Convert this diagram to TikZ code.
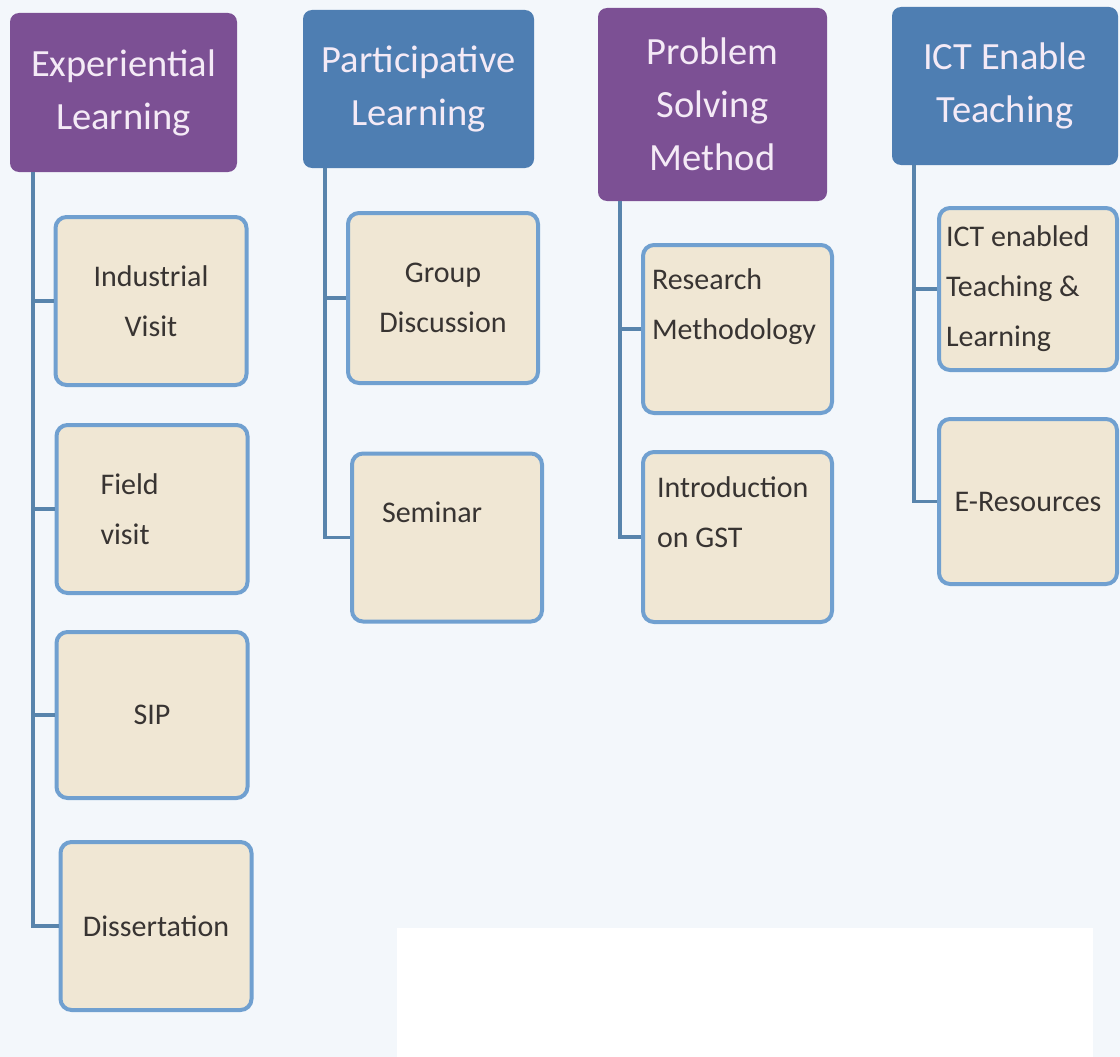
\documentclass[tikz,border=0pt]{standalone}
\usepackage{fontspec}
\setmainfont{Carlito}
\usepackage{xcolor}
\usepackage{tikz}
\usetikzlibrary{positioning}
\definecolor{bgblue}{RGB}{243,247,251}
\definecolor{headpurple}{RGB}{124,80,148}
\definecolor{headblue}{RGB}{78,126,178}
\definecolor{headtext}{RGB}{244,234,246}
\definecolor{subfill}{RGB}{240,231,212}
\definecolor{subline}{RGB}{112,160,208}
\definecolor{subtext}{RGB}{56,52,50}
\definecolor{trunkcol}{RGB}{88,132,172}
\tikzstyle{head}=[rectangle,rounded corners=9pt,align=center,text=headtext,inner sep=0pt,
minimum width=229pt,minimum height=158pt,font=\fontsize{38.5}{53}\selectfont]
\tikzstyle{hp}=[head,fill=headpurple]
\tikzstyle{hb}=[head,fill=headblue]
\tikzstyle{sub}=[draw=subline,line width=4pt,rounded corners=11pt,fill=subfill,align=center,
text=subtext,inner sep=0pt,minimum width=191pt,minimum height=168pt,font=\fontsize{30}{50}\selectfont]
\tikzstyle{subl}=[sub,align=flush left]
\tikzstyle{trunk}=[draw,trunkcol,line width=3.6pt]
\begin{document}
\begin{tikzpicture}[x=1pt,y=-1pt]

	\useasboundingbox (0,0) rectangle (1120,1057);
	\fill[bgblue] (0,0) rectangle (1120,1057);
	\fill[white] (397,928) rectangle (1093,1057);

% % % Experiential

	\node[hp,minimum width=227pt,minimum height=159pt] (el) at (123.5,92.5) {Experiential\\Learning};

	\node[sub] (iv) at (151,301) {Industrial\\Visit};
	\node[subl,text width=103pt] (fv) at (152,509) {Field\\visit};
	\node[sub,minimum height=166pt] (sip) at (152,715) {SIP};
	\node[sub] (dis) at (156,926) {Dissertation};

	\coordinate (elt) at ([xshift=23pt]el.south west);

	\path[trunk] (elt) |- (iv.west);
	\path[trunk] (elt) |- (fv.west);
	\path[trunk] (elt) |- (sip.west);
	\path[trunk] (elt) |- (dis.west);

% % % Participative

	\node[hb,minimum width=231pt] (pl) at (418.5,89) {Participative\\Learning};

	\node[sub,minimum width=190pt,minimum height=170pt] (gd) at (443,298) {Group\\Discussion};
	\node[subl,minimum width=190pt,text width=130pt] (se) at (447,537.5) {Seminar\\\mbox{}};

	\coordinate (plt) at ([xshift=22pt]pl.south west);

	\path[trunk] (plt) |- (gd.west);
	\path[trunk] (plt) |- (se.west);

% % % Problem solving

	\node[hp,minimum height=193pt] (ps) at (712.5,104.5) {Problem\\Solving\\Method};

	\node[subl,minimum width=189pt,text width=171pt] (rm) at (737.5,329) {Research\\Methodology\\\mbox{}};
	\node[subl,minimum width=189pt,minimum height=170pt,text width=161pt] (ig) at (737.5,537) {Introduction\\on GST\\\mbox{}};

	\coordinate (pst) at ([xshift=22pt]ps.south west);

	\path[trunk] (pst) |- (rm.west);
	\path[trunk] (pst) |- (ig.west);

% % % ICT

	\node[hb,minimum width=226pt] (it) at (1005,86) {ICT Enable\\Teaching};

	\node[subl,minimum width=178pt,minimum height=162pt,text width=164pt] (ie) at (1028,289) {ICT enabled\\Teaching \&\\Learning};
	\node[sub,minimum width=178pt,minimum height=165pt] (er) at (1028,501.5) {E-Resources};

	\coordinate (itt) at ([xshift=22pt]it.south west);

	\path[trunk] (itt) |- (ie.west);
	\path[trunk] (itt) |- (er.west);

\end{tikzpicture}
\end{document}
